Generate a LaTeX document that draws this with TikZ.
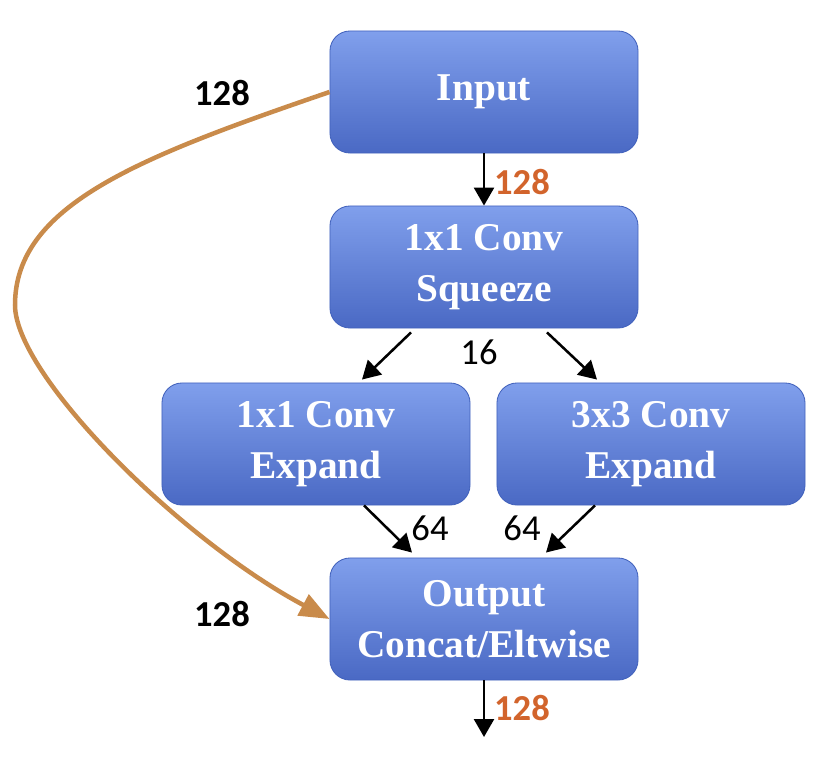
\documentclass[tikz,border=0pt]{standalone}
\usepackage{fontspec}
\setmainfont{Liberation Serif}
\newfontfamily\lblfont{Carlito}
\usetikzlibrary{arrows.meta,calc}
\definecolor{boxtop}{HTML}{809FEC}
\definecolor{boxbot}{HTML}{4A69C4}
\definecolor{boxline}{HTML}{4262BC}
\definecolor{skipline}{HTML}{C98B4B}
\definecolor{chnum}{HTML}{D2642C}

\tikzset{
  layer/.style={rounded corners=0.5cm, draw=boxline, line width=0.6pt,
    top color=boxtop, bottom color=boxbot, minimum width=7.7cm,
    minimum height=3.05cm, text=white, align=center,
    font=\fontsize{28}{36}\selectfont\bfseries},
  flow/.style={line width=1.8pt, -{Triangle[length=4.5mm,width=5mm]}},
  skip/.style={draw=skipline, line width=3.2pt, -{Triangle[length=7.5mm,width=5.8mm]}},
  num/.style={font=\lblfont\fontsize{26}{30}\selectfont},
  numb/.style={font=\lblfont\bfseries\fontsize{26}{30}\selectfont},
}

\begin{document}
\begin{tikzpicture}[x=0.025cm, y=-0.025cm]
		%%%%% FRAME %%%%%
		\useasboundingbox (0, 0) rectangle (829, 758);
		
		%%%%% LAYERS %%%%%
		\node[layer] (in) at (484, 92) {\raisebox{-4pt}{Input}};
		\node[layer] (sq) at (484, 267) {1x1 Conv\\Squeeze};
		\node[layer] (ex1) at (316, 444) {1x1 Conv\\Expand};
		\node[layer] (ex3) at (651, 444) {3x3 Conv\\Expand};
		\node[layer] (out) at (484, 619) {Output\\Concat/Eltwise};
		\coordinate (end) at (484, 737);
		\coordinate (bend) at (15, 305);
		
		%%%%% FLOW %%%%%
		\draw[flow] (in.south) -- (sq.north);
		\draw[flow] ($(sq.south)+(-73,4)$) -- ($(ex1.north)+(46,-3)$);
		\draw[flow] ($(sq.south)+(63,4)$) -- ($(ex3.north)+(-54,-3)$);
		\draw[flow] ($(ex1.south)+(48,0)$) -- ($(out.north)+(-72,-5)$);
		\draw[flow] ($(ex3.south)+(-56,0)$) -- ($(out.north)+(62,-5)$);
		\draw[flow] (out.south) -- (end);
		
		%%%%% SKIP %%%%%
		\draw[skip] (in.west) .. controls +(-190, 65) and +(0, -100) .. (bend)
		  .. controls +(0, 70) and +(-150, -80) .. (out.west);
		
		%%%%% CHANNELS %%%%%
		\node[numb, text=chnum] (c0) at (522, 182) {128};
		\node[num] (c1) at (479, 352) {16};
		\node[num] (c2) at (430, 528) {64};
		\node[num] (c3) at (522, 528) {64};
		\node[numb, text=chnum] (c4) at (522, 708) {128};
		\node[numb] (s0) at (222, 93) {128};
		\node[numb] (s1) at (222, 614) {128};
		
		%%%%% END %%%%%
	\end{tikzpicture}
\end{document}
